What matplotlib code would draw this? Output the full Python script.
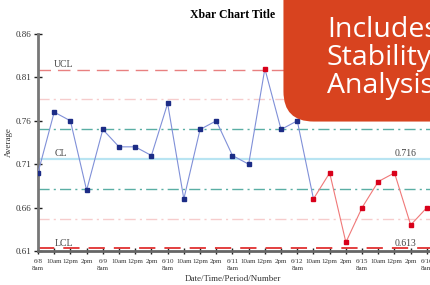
import matplotlib.pyplot as plt
from matplotlib.patches import FancyBboxPatch

# data
labels = ['6/8\n8am', '10am', '12pm', '2pm', '6/9\n8am', '10am', '12pm', '2pm',
          '6/10\n8am', '10am', '12pm', '2pm', '6/11\n8am', '10am', '12pm', '2pm',
          '6/12\n8am', '10am', '12pm', '2pm', '6/15\n8am', '10am', '12pm', '2pm',
          '6/16\n8am']
values = [0.70, 0.77, 0.76, 0.68, 0.75, 0.73, 0.73, 0.72, 0.78, 0.67, 0.75, 0.76,
          0.72, 0.71, 0.82, 0.75, 0.76, 0.67, 0.70, 0.62, 0.66, 0.69, 0.70, 0.64,
          0.66]
out_points = [14, 17, 18, 19, 20, 21, 22, 23, 24]
split = 17  # line turns red after this point

ucl = 0.819
cl = 0.716
lcl = 0.613
sigma = (ucl - cl) / 3
yticks = [0.61, 0.66, 0.71, 0.76, 0.81, 0.86]

plt.rcParams['font.family'] = ['Liberation Serif', 'DejaVu Serif']

fig = plt.figure(figsize=(4.31, 2.85), dpi=100)
ax = fig.add_axes([38/431, 34/285, 397/431, 217/285])

x = list(range(len(values)))

# zone lines
ax.axhline(ucl, color='#e88080', lw=1.0, dashes=(9, 5))
ax.axhline(lcl, color='#e03030', lw=1.3, dashes=(9, 5))
ax.axhline(cl, color='#b8e4f2', lw=1.6)
ax.axhline(cl + 2*sigma, color='#f6cccc', lw=1.0, dashes=(8, 3, 1.5, 3))
ax.axhline(cl - 2*sigma, color='#f6cccc', lw=1.0, dashes=(8, 3, 1.5, 3))
ax.axhline(cl + sigma, color='#5aaea4', lw=1.0, dashes=(8, 3, 1.5, 3))
ax.axhline(cl - sigma, color='#5aaea4', lw=1.0, dashes=(8, 3, 1.5, 3))

ax.plot(x[:split+1], values[:split+1], color='#8090d8', lw=0.8, zorder=3)
ax.plot(x[split:], values[split:], color='#f07878', lw=0.8, zorder=3)
for i in x:
    if i in out_points:
        ax.plot(i, values[i], 's', ms=3, color='#d8001a', zorder=4)
    else:
        ax.plot(i, values[i], 's', ms=3, color='#1c2c86', zorder=4)

ax.text(1, ucl + 0.003, 'UCL', fontsize=7, color='#444444')
ax.text(1, cl + 0.003, 'CL', fontsize=7, color='#444444')
ax.text(1, lcl + 0.003, 'LCL', fontsize=7, color='#444444')
ax.text(22.0, cl + 0.003, '%.3f' % cl, fontsize=7, color='#444444')
ax.text(22.0, lcl + 0.003, '%.3f' % lcl, fontsize=7, color='#444444')

ax.set_xlim(0, 24.5)
ax.set_ylim(0.61, 0.86)
ax.set_yticks(yticks)
ax.set_yticklabels(['%.2f' % v for v in yticks], fontsize=6.5, color='#333333')
ax.set_xticks(x)
ax.set_xticklabels(labels, fontsize=5, color='#333333', linespacing=1.6)
ax.tick_params(axis='y', direction='inout', length=6, width=1, color='#222222', pad=2)
ax.tick_params(axis='x', direction='inout', length=5, width=1, color='#222222', pad=3)
for s in ['top', 'right']:
    ax.spines[s].set_visible(False)
ax.spines['left'].set_color('#777777')
ax.spines['left'].set_linewidth(2)
ax.spines['bottom'].set_color('#666666')
ax.spines['bottom'].set_linewidth(2)
ax.set_ylabel('Average', fontsize=6.5, color='#333333', labelpad=2)

fig.text(233/431, 1 - 15/285, 'Xbar Chart Title', fontsize=8.5, weight='bold',
         ha='center', va='center')
fig.text(233/431, 1 - 279/285, 'Date/Time/Period/Number', fontsize=6.5,
         color='#333333', ha='center', va='center')

# badge
badge = FancyBboxPatch((305/431, 1 - 100/285), 200/431, 120/285,
                       boxstyle='round,pad=0.05,rounding_size=0.07',
                       transform=fig.transFigure, facecolor='#d8431f',
                       edgecolor='none', zorder=10, mutation_aspect=431/285)
fig.patches.append(badge)
fig.text(327/431, 1 - 58/285, 'Includes\nStability\nAnalysis', fontsize=20.5,
         color='white', family='Open Sans', ha='left', va='center',
         linespacing=1.0, zorder=11)

fig.savefig('out.png', dpi=100)
